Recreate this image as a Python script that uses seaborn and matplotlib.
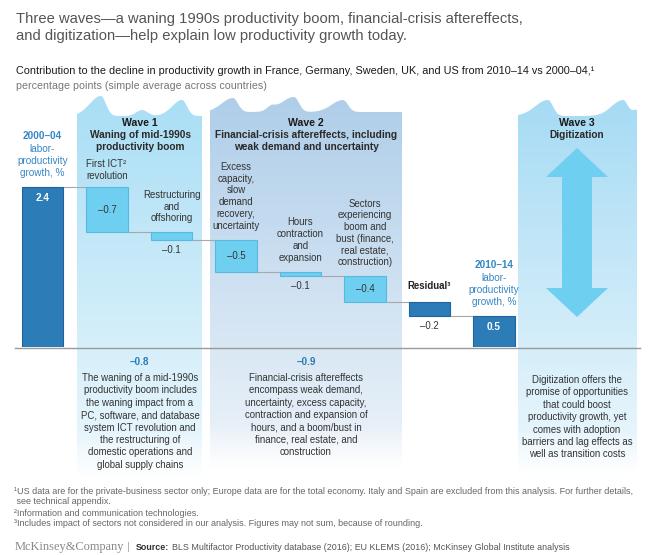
import numpy as np
import pandas as pd
import matplotlib
matplotlib.use("Agg")
import matplotlib.pyplot as plt
import seaborn as sns
from matplotlib.patches import Polygon
from matplotlib.colors import to_rgba

# ---------------- data ----------------
steps = ["2000–04", "First ICT revolution", "Restructuring and offshoring",
         "Excess capacity", "Hours contraction and expansion",
         "Sectors boom and bust", "Residual", "2010–14"]
changes = [2.4, -0.68, -0.11, -0.48, -0.07, -0.39, -0.21, 0.46]
kinds = ["total", "wave1", "wave1", "wave2", "wave2", "wave2", "residual", "total"]
step_labels = ["2000–04\nlabor-\nproductivity\ngrowth, %",
               "First ICT²\nrevolution",
               "Restructuring\nand\noffshoring",
               "Excess\ncapacity,\nslow\ndemand\nrecovery,\nuncertainty",
               "Hours\ncontraction\nand\nexpansion",
               "Sectors\nexperiencing\nboom and\nbust (finance,\nreal estate,\nconstruction)",
               "Residual³",
               "2010–14\nlabor-\nproductivity\ngrowth, %"]
wave_titles = ["Wave 1", "Wave 2", "Wave 3"]
wave_subtitles = ["Waning of mid-1990s\nproductivity boom",
                  "Financial-crisis aftereffects, including\nweak demand and uncertainty",
                  "Digitization"]
wave_notes = ["The waning of a mid-1990s\nproductivity boom includes\nthe waning impact from a\nPC, software, and database\nsystem ICT revolution and\nthe restructuring of\ndomestic operations and\nglobal supply chains",
              "Financial-crisis aftereffects\nencompass weak demand,\nuncertainty, excess capacity,\ncontraction and expansion of\nhours, and a boom/bust in\nfinance, real estate, and\nconstruction",
              "Digitization offers the\npromise of opportunities\nthat could boost\nproductivity growth, yet\ncomes with adoption\nbarriers and lag effects as\nwell as transition costs"]

title = ("Three waves—a waning 1990s productivity boom, financial-crisis aftereffects,\n"
         "and digitization—help explain low productivity growth today.")
subtitle = "Contribution to the decline in productivity growth in France, Germany, Sweden, UK, and US from 2010–14 vs 2000–04,¹"
unit = "percentage points (simple average across countries)"
footnotes = ["¹US data are for the private-business sector only; Europe data are for the total economy. Italy and Spain are excluded from this analysis. For further details,",
             " see technical appendix.",
             "²Information and communication technologies.",
             "³Includes impact of sectors not considered in our analysis. Figures may not sum, because of rounding."]
source = "BLS Multifactor Productivity database (2016); EU KLEMS (2016); McKinsey Global Institute analysis"

# ---------------- style ----------------
FONT = ["Liberation Sans", "DejaVu Sans"]
plt.rcParams["font.family"] = FONT
DARK = "#2c7cb8"
DARK_EDGE = "#21639a"
LIGHT = "#6fcff1"
LIGHT_EDGE = "#58b9e0"
BLUE_TXT = "#3486c4"
TXT = "#333333"
CONN = "#a8a8a8"

W, H = 648, 555
fig = plt.figure(figsize=(W / 100, H / 100), dpi=100)
fig.patch.set_facecolor("white")

# background axes in pixel coordinates
bg = fig.add_axes([0, 0, 1, 1])
bg.set_xlim(0, W)
bg.set_ylim(H, 0)
bg.axis("off")


def panel(x0, x1, ybot, base, crests, c_top, c_bot):
    xs = np.linspace(x0, x1, 400)
    ys = np.full_like(xs, base, dtype=float)
    for c, h, wl, wr in crests:
        w = np.where(xs < c, wl, wr)
        ys -= h * np.exp(-((xs - c) / w) ** 2)
    ymin = ys.min()
    verts = np.column_stack([np.r_[xs, x1, x0], np.r_[ys, ybot, ybot]])
    poly = Polygon(verts, closed=True, fc="none", ec="none")
    bg.add_patch(poly)
    t = np.linspace(0, 1, 256)[:, None]
    ct, cb = np.array(to_rgba(c_top)), np.array(to_rgba(c_bot))
    img = ct * (1 - t) + cb * t
    img[:, 3] = np.clip((1 - t[:, 0]) / 0.12, 0, 1)
    im = bg.imshow(img[:, None, :], extent=(x0, x1, ybot, ymin), aspect="auto",
                   interpolation="bilinear", zorder=0)
    im.set_clip_path(poly)


panel(77, 202, 478, 116, [(101, 20, 16, 7), (142, 6, 8, 8), (182, 16, 14, 7)],
      "#a9def5", "#eef8fd")
panel(210, 402, 470, 112, [(233, 14, 16, 7), (271, 4, 6, 6), (294, 15, 18, 7), (343, 12, 16, 7)],
      "#afcee9", "#eef4fa")
panel(518, 637, 475, 116, [(548, 16, 18, 7), (623, 16, 16, 7), (637, 6, 6, 6)],
      "#a6dbf4", "#eef8fd")
bg.set_xlim(0, W)
bg.set_ylim(H, 0)

# double-headed arrow for wave 3
arrow = [(577, 148), (608, 177), (592, 177), (592, 288), (608, 288), (577, 317),
         (546, 288), (562, 288), (562, 177), (546, 177)]
bg.add_patch(Polygon(arrow, closed=True, fc=LIGHT, ec="none", zorder=1))

# baseline
bg.plot([15, 640], [347.5, 347.5], color="#9a9a9a", lw=1.0, zorder=2)

# ---------------- waterfall ----------------
bottoms, heights = [], []
level = 0.0
for v, k in zip(changes, kinds):
    if k == "total":
        bottoms.append(0.0)
        heights.append(v)
        level = v
    else:
        new = level + v
        bottoms.append(min(level, new))
        heights.append(abs(v))
        level = new
levels_after = []
level = 0.0
for v, k in zip(changes, kinds):
    level = v if k == "total" else level + v
    levels_after.append(level)

df = pd.DataFrame({"step": steps, "height": heights})

px_per_unit = 160 / 2.4
x_left_px, x_step_px = 42.5 - 0.5 * 64.5, 64.5
ax = fig.add_axes([x_left_px / W, (H - 347) / H, 8 * x_step_px / W, 2.5 * px_per_unit / H])
ax.set_facecolor("none")
bw = 0.636
sns.barplot(data=df, x="step", y="height", order=steps, width=bw, color=DARK,
            saturation=1, errorbar=None, ax=ax, linewidth=0.8, edgecolor=DARK_EDGE, zorder=3)
for p, b, h, k in zip(ax.patches, bottoms, heights, kinds):
    p.set_y(b)
    p.set_height(h)
    if k in ("wave1", "wave2"):
        p.set_facecolor(LIGHT)
        p.set_edgecolor(LIGHT_EDGE)
ax.set_xlim(-0.5, 7.5)
ax.set_ylim(0, 2.5)
ax.axis("off")

# connectors
for i in range(len(steps) - 1):
    y = levels_after[i]
    ax.plot([i + bw / 2, i + 1 - bw / 2], [y, y], color=CONN, lw=0.8, zorder=2)


def fmt(v):
    return f"{v:.1f}".replace("-", "–")


FS = 6.9
for i, (v, k, lab) in enumerate(zip(changes, kinds, step_labels)):
    top = bottoms[i] + heights[i]
    bot = bottoms[i]
    hpx = heights[i] * px_per_unit
    if k == "total":
        ax.annotate(fmt(v), (i, top), xytext=(0, -11), textcoords="offset pixels",
                    ha="center", va="center", color="white", fontsize=7.2,
                    fontweight="bold", zorder=5)
        lines = lab.split("\n")
        ax.annotate("\n".join(lines[1:]), (i, top), xytext=(0, 9), textcoords="offset pixels",
                    ha="center", va="bottom", color=BLUE_TXT, fontsize=7.2,
                    linespacing=1.25, zorder=5)
        ax.annotate(lines[0], (i, top), xytext=(0, 9 + 3 * 12.4), textcoords="offset pixels",
                    ha="center", va="bottom", color=BLUE_TXT, fontsize=7.2,
                    fontweight="bold", zorder=5)
        continue
    if hpx >= 20:
        ax.annotate(fmt(v), (i, (top + bot) / 2), ha="center", va="center",
                    color=TXT, fontsize=FS, zorder=5)
    else:
        ax.annotate(fmt(v), (i, bot), xytext=(0, -10), textcoords="offset pixels",
                    ha="center", va="center", color=TXT, fontsize=FS, zorder=5)
    if k == "residual":
        ax.annotate(lab, (i, top), xytext=(0, 11), textcoords="offset pixels",
                    ha="center", va="bottom", color="#222222", fontsize=FS,
                    fontweight="bold", zorder=5)
    elif i == 1:
        ax.annotate(lab, (i - bw / 2, top), xytext=(0, 6), textcoords="offset pixels",
                    ha="left", va="bottom", color=TXT, fontsize=FS,
                    linespacing=1.22, zorder=5)
    else:
        ax.annotate(lab, (i, top), xytext=(0, 9), textcoords="offset pixels",
                    ha="center", va="bottom", color=TXT, fontsize=FS,
                    linespacing=1.22, zorder=5)

# ---------------- wave headers / notes ----------------
wave_x = [140, 306, 577]
for j in range(3):
    bg.text(wave_x[j], 122.5, wave_titles[j], ha="center", va="center",
            fontsize=7.6, fontweight="bold", color="#1a1a1a", zorder=5)
    bg.text(wave_x[j], 129.5, wave_subtitles[j], ha="center", va="top",
            fontsize=7.3, fontweight="bold", color="#2a2a2a", linespacing=1.3, zorder=5)

wave_tot = [sum(v for v, k in zip(changes, kinds) if k == "wave1"),
            sum(v for v, k in zip(changes, kinds) if k == "wave2")]
for j in range(2):
    bg.text(wave_x[j], 362, fmt(wave_tot[j]), ha="center", va="center",
            fontsize=7.2, fontweight="bold", color=DARK, zorder=5)
note_y = [373, 373, 375]
for j in range(3):
    bg.text(wave_x[j], note_y[j], wave_notes[j], ha="center", va="top",
            fontsize=FS, color=TXT, linespacing=1.3, zorder=5)

# ---------------- titles ----------------
bg.text(16, 12, title, ha="left", va="top", fontsize=10.6, color="#555555",
        linespacing=1.28)
bg.text(16, 71, subtitle, ha="left", va="center", fontsize=7.8, color="#1a1a1a")
bg.text(16, 86, unit, ha="left", va="center", fontsize=7.7, color="#777777")

# ---------------- footnotes ----------------
for k, (y, s) in enumerate(zip([491, 502, 513, 524], footnotes)):
    bg.text(14, y, s, ha="left", va="center", fontsize=6.5, color="#666666")

bg.text(15, 547, "McKinsey&Company", ha="left", va="center", fontsize=8.9,
        family=["Liberation Serif", "DejaVu Serif"], color="#888888")
bg.text(127, 547, "|", ha="left", va="center", fontsize=8, color="#aaaaaa")
t_src = bg.text(136, 547, "Source:", ha="left", va="center", fontsize=6.4,
                fontweight="bold", color="#333333")
fig.canvas.draw()
bb = t_src.get_window_extent()
bg.text(136 + bb.width + 3, 547, source, ha="left", va="center", fontsize=6.4, color="#555555")

fig.savefig("out.png", dpi=100, facecolor="white")
